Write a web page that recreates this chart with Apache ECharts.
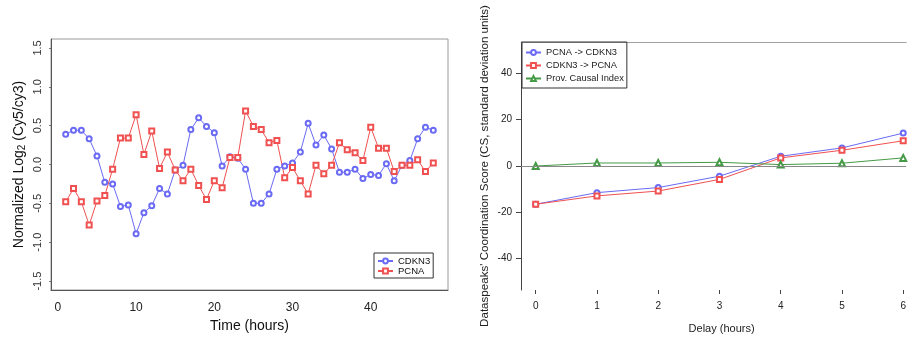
<!DOCTYPE html>
<html>
<head>
<meta charset="utf-8">
<script src="https://cdn.jsdelivr.net/npm/echarts@6/dist/echarts.min.js"></script>
<style>
html,body{margin:0;padding:0;background:#fff;}
#chart{width:909px;height:339px;}
</style>
</head>
<body>
<div id="chart"></div>
<script>
// ---- Left panel data ----
const hours = [1,2,3,4,5,6,7,8,9,10,11,12,13,14,15,16,17,18,19,20,21,22,23,24,25,26,27,28,29,30,31,32,33,34,35,36,37,38,39,40,41,42,43,44,45,46,47,48];
const cdkn3 = [0.39,0.44,0.44,0.33,0.11,-0.23,-0.25,-0.54,-0.52,-0.89,-0.62,-0.53,-0.31,-0.38,-0.07,-0.01,0.45,0.60,0.49,0.41,-0.02,0.10,0.08,-0.06,-0.50,-0.50,-0.38,-0.06,-0.02,0.02,0.16,0.53,0.25,0.38,0.20,-0.10,-0.10,-0.06,-0.18,-0.13,-0.14,0.01,-0.21,-0.01,0.05,0.33,0.48,0.44];
const pcna = [-0.48,-0.31,-0.48,-0.78,-0.47,-0.40,-0.06,0.34,0.34,0.64,0.13,0.43,-0.05,0.16,-0.07,-0.21,-0.06,-0.27,-0.45,-0.21,-0.30,0.09,0.09,0.69,0.49,0.45,0.28,0.31,-0.17,-0.04,-0.21,-0.38,-0.01,-0.12,-0.01,0.28,0.19,0.15,0.05,0.48,0.21,0.21,-0.09,-0.01,-0.01,0.06,-0.09,0.02];
const leftXTicks = [0,10,20,30,40];
const leftYTicks = [-1.5,-1.0,-0.5,0.0,0.5,1.0,1.5];

// ---- Right panel data ----
const delay = [0,1,2,3,4,5,6];
const pcnaToCdkn3 = [-16.5,-11.5,-9.3,-4.4,4.2,7.8,14.2];
const cdkn3ToPcna = [-16.5,-12.9,-10.8,-5.8,3.5,6.8,10.9];
const causalIndex = [0,1.3,1.3,1.6,0.6,1.2,3.5];
const rightXTicks = [0,1,2,3,4,5,6];
const rightYTicks = [-40,-20,0,20,40];

const FONT = '"Liberation Sans", Arial, Helvetica, sans-serif';
const BLUE = '#6a6af4';
const RED = '#f05050';
const GREEN = '#459a46';

function pairs(xs, ys){ return xs.map((x,i)=>[x, ys[i]]); }

const chart = echarts.init(document.getElementById('chart'));
chart.setOption({
  animation: false,
  backgroundColor: '#fff',
  textStyle: {fontFamily: FONT},
  grid: [
    {left: 51, top: 39, width: 397, height: 251, show: true, borderColor: '#9a9a9a', borderWidth: 1, backgroundColor: 'transparent'},
    {left: 521, top: 42, width: 388, height: 250}
  ],
  xAxis: [
    {gridIndex: 0, type: 'value', min: -0.88, max: 49.88,
     name: 'Time (hours)', nameLocation: 'middle', nameGap: 19,
     nameTextStyle: {fontSize: 14, color: '#111', fontFamily: FONT},
     axisLine: {show: true, onZero: false, lineStyle: {color: '#555'}},
     axisTick: {show: false},
     splitLine: {show: false},
     axisLabel: {customValues: leftXTicks, fontSize: 12, color: '#222', margin: 12, fontFamily: FONT}},
    {gridIndex: 1, type: 'value', min: -0.24, max: 6.048,
     name: 'Delay (hours)', nameLocation: 'middle', nameGap: 33,
     nameTextStyle: {fontSize: 11, color: '#222', fontFamily: FONT, padding: [0, 0, 0, 16]},
     axisLine: {show: false, onZero: false},
     axisTick: {show: true, customValues: rightXTicks, length: 4, lineStyle: {color: '#444'}},
     splitLine: {show: false},
     axisLabel: {customValues: rightXTicks, fontSize: 10, color: '#222', margin: 11, fontFamily: FONT}},
    {gridIndex: 1, type: 'value', position: 'top', min: -0.24, max: 6.048,
     axisLine: {show: true, onZero: false, lineStyle: {color: '#a0a0a0'}},
     axisTick: {show: false}, axisLabel: {show: false}, splitLine: {show: false}}
  ],
  yAxis: [
    {gridIndex: 0, type: 'value', min: -1.615, max: 1.615,
     name: 'Normalized Log{sub|2} (Cy5/cy3)', nameLocation: 'middle', nameGap: 24,
     nameTextStyle: {fontSize: 14, color: '#111', fontFamily: FONT,
       rich: {sub: {fontSize: 10, fontFamily: FONT, color: '#111', padding: [6,0,0,0]}}},
     axisLine: {show: true, onZero: false, lineStyle: {color: '#555'}},
     axisTick: {show: true, customValues: leftYTicks, length: 2, lineStyle: {color: '#777'}},
     splitLine: {show: false},
     axisLabel: {customValues: leftYTicks, rotate: 90, fontSize: 11, color: '#333', margin: 8, fontFamily: FONT,
       formatter: v => v.toFixed(1)}},
    {gridIndex: 1, type: 'value', min: -53.5, max: 53.5,
     name: "Dataspeaks' Coordination Score (CS, standard deviation units)", nameLocation: 'middle', nameGap: 30,
     nameTextStyle: {fontSize: 11.6, color: '#222', fontFamily: FONT},
     axisLine: {show: true, onZero: false, lineStyle: {color: '#444'}},
     axisTick: {show: true, customValues: rightYTicks, length: 5, lineStyle: {color: '#444'}},
     splitLine: {show: false},
     axisLabel: {customValues: rightYTicks, fontSize: 10, color: '#222', margin: 9, fontFamily: FONT}}
  ],
  legend: [
    {data: ['CDKN3','PCNA'], orient: 'vertical', left: 374, top: 253,
     borderColor: '#333', borderWidth: 1, padding: [3, 3, 2, 3], itemGap: 0,
     itemWidth: 15, itemHeight: 6,
     textStyle: {fontSize: 9.5, color: '#111', lineHeight: 10, fontFamily: FONT}},
    {data: ['PCNA -> CDKN3','CDKN3 -> PCNA','Prov. Causal Index'], orient: 'vertical', left: 522, top: 42,
     borderColor: '#333', borderWidth: 1, padding: [5, 3, 4, 3], itemGap: 2,
     itemWidth: 15, itemHeight: 6,
     textStyle: {fontSize: 9.3, color: '#222', lineHeight: 11, fontFamily: FONT}}
  ],
  series: [
    {name: 'CDKN3', type: 'line', xAxisIndex: 0, yAxisIndex: 0, data: pairs(hours, cdkn3),
     symbol: 'emptyCircle', symbolSize: 5, color: BLUE,
     lineStyle: {width: 1, color: BLUE}, itemStyle: {color: BLUE, borderWidth: 0.8}},
    {name: 'PCNA', type: 'line', xAxisIndex: 0, yAxisIndex: 0, data: pairs(hours, pcna),
     symbol: 'emptyRect', symbolSize: 5, color: RED,
     lineStyle: {width: 1, color: RED}, itemStyle: {color: RED, borderWidth: 0.8}},
    {name: 'PCNA -> CDKN3', type: 'line', xAxisIndex: 1, yAxisIndex: 1, data: pairs(delay, pcnaToCdkn3),
     symbol: 'emptyCircle', symbolSize: 5, color: BLUE,
     lineStyle: {width: 1, color: BLUE}, itemStyle: {color: BLUE, borderWidth: 0.8},
     markLine: {silent: true, symbol: 'none', label: {show: false},
       lineStyle: {color: '#888', width: 1, type: 'solid'}, data: [{yAxis: 0}]}},
    {name: 'CDKN3 -> PCNA', type: 'line', xAxisIndex: 1, yAxisIndex: 1, data: pairs(delay, cdkn3ToPcna),
     symbol: 'emptyRect', symbolSize: 5, color: RED,
     lineStyle: {width: 1, color: RED}, itemStyle: {color: RED, borderWidth: 0.8}},
    {name: 'Prov. Causal Index', type: 'line', xAxisIndex: 1, yAxisIndex: 1, data: pairs(delay, causalIndex),
     symbol: 'emptyTriangle', symbolSize: 6, color: GREEN,
     lineStyle: {width: 1, color: GREEN}, itemStyle: {color: GREEN, borderWidth: 0.8}}
  ]
});
</script>
</body>
</html>
